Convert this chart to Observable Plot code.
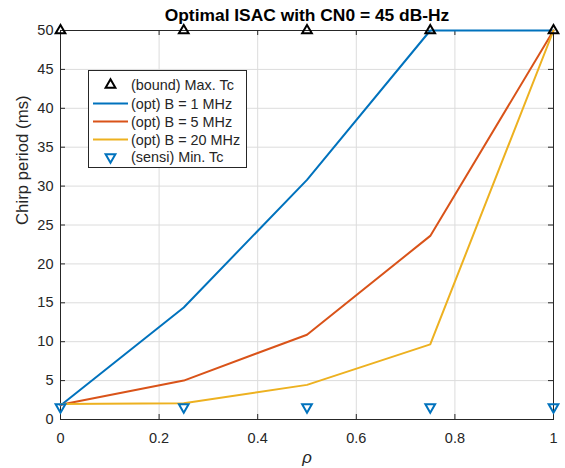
<!DOCTYPE html>
<html><head><meta charset="utf-8">
<script src="https://cdn.jsdelivr.net/npm/d3@7"></script>
<script src="https://cdn.jsdelivr.net/npm/@observablehq/plot@0.6"></script>
<style>
body{margin:0;background:#fff;font-family:"Liberation Sans",Arial,sans-serif;}
#wrap{position:relative;width:565px;height:468px;}
#legend{position:absolute;left:0;top:0;}
</style></head>
<body><div id="wrap"></div>
<script>
const rho = [0, 0.25, 0.5, 0.75, 1];
const tcB1 = [1.8, 14.4, 30.8, 50, 50];
const tcB5 = [1.9, 5.0, 10.9, 23.6, 50];
const tcB20 = [2.0, 2.1, 4.45, 9.65, 50];
const maxTc = [50, 50, 50, 50, 50];
const minTc = [1.6, 1.6, 1.6, 1.6, 1.6];
const xTicks = [0, 0.2, 0.4, 0.6, 0.8, 1];
const yTicks = [0, 5, 10, 15, 20, 25, 30, 35, 40, 45, 50];
const seriesNames = ["(bound) Max. Tc", "(opt) B = 1 MHz", "(opt) B = 5 MHz", "(opt) B = 20 MHz", "(sensi) Min. Tc"];
const colors = {blue: "#0072BD", red: "#D95319", yellow: "#EDB120"};
const title = "Optimal ISAC with CN0 = 45 dB-Hz";

const W = 565, H = 468, mL = 60, mR = 12, mT = 30, mB = 49;
const pw = W - mL - mR, ph = H - mT - mB;
const pts = (ys) => rho.map((r, i) => ({x: r, y: ys[i]}));
const axisColor = "#262626";
const FONT = "Liberation Sans, Arial, sans-serif";

const chart = Plot.plot({
  width: W, height: H,
  marginLeft: mL, marginRight: mR, marginTop: mT, marginBottom: mB,
  style: {fontFamily: FONT, fontSize: "14.5px", color: axisColor, background: "#fff"},
  x: {domain: [0, 1], ticks: xTicks, label: null},
  y: {domain: [0, 50], ticks: yTicks, label: null},
  marks: [
    Plot.gridX(xTicks, {stroke: "#dcdcdc", strokeOpacity: 1}),
    Plot.gridY(yTicks, {stroke: "#dcdcdc", strokeOpacity: 1}),
    Plot.frame({stroke: axisColor, strokeWidth: 1}),
    Plot.tickX(xTicks, {x: d => d, insetTop: ph - 5, stroke: axisColor}),
    Plot.tickX(xTicks, {x: d => d, insetBottom: ph - 5, stroke: axisColor}),
    Plot.tickY(yTicks, {y: d => d, insetRight: pw - 5, stroke: axisColor}),
    Plot.tickY(yTicks, {y: d => d, insetLeft: pw - 5, stroke: axisColor}),
    Plot.axisX(xTicks, {tickSize: 0, tickPadding: 13, fontSize: 14.5, fill: axisColor, tickFormat: d => String(d)}),
    Plot.axisY(yTicks, {tickSize: 0, tickPadding: 7, fontSize: 14.5, fill: axisColor}),
    Plot.line(pts(tcB1), {x: "x", y: "y", stroke: colors.blue, strokeWidth: 2}),
    Plot.line(pts(tcB5), {x: "x", y: "y", stroke: colors.red, strokeWidth: 2}),
    Plot.line(pts(tcB20), {x: "x", y: "y", stroke: colors.yellow, strokeWidth: 2}),
    Plot.dot(pts(maxTc), {x: "x", y: "y", symbol: "triangle", r: 3.6, stroke: "#000", strokeWidth: 2, fill: "none"}),
    Plot.dot(pts(minTc), {x: "x", y: "y", symbol: "triangle", rotate: 180, r: 3.6, stroke: colors.blue, strokeWidth: 2, fill: "none"}),
    Plot.text([title], {frameAnchor: "top", lineAnchor: "middle", dy: -15, fontWeight: "bold", fontSize: 17.4, fill: "#000"}),
    Plot.text(["Chirp period (ms)"], {frameAnchor: "left", dx: -38, rotate: -90, fontSize: 16.8, fill: axisColor}),
    Plot.text(["ρ"], {frameAnchor: "bottom", dy: 43, fontSize: 16.8, fontStyle: "italic", fill: axisColor})
  ]
});
const wrap = document.getElementById("wrap");
wrap.appendChild(chart);

// legend overlay
const lg = d3.select(wrap).append("svg").attr("id", "legend").attr("width", W).attr("height", H)
  .style("font-family", FONT);
lg.append("rect").attr("x", 88.5).attr("y", 70.5).attr("width", 158).attr("height", 97)
  .attr("fill", "#fff").attr("stroke", axisColor).attr("stroke-width", 1);
const rowY = [85, 103.5, 121.5, 139.5, 157];
const kinds = [
  {type: "tri", color: "#000", rot: 0},
  {type: "line", color: colors.blue},
  {type: "line", color: colors.red},
  {type: "line", color: colors.yellow},
  {type: "tri", color: colors.blue, rot: 180}
];
const triPath = d3.symbol(d3.symbolTriangle, Math.pow(3.6 * 2, 2) * 0.8)();
seriesNames.forEach((name, i) => {
  const k = kinds[i], y = rowY[i];
  if (k.type === "line") {
    lg.append("line").attr("x1", 93).attr("x2", 128).attr("y1", y).attr("y2", y)
      .attr("stroke", k.color).attr("stroke-width", 2);
  } else {
    lg.append("path").attr("d", triPath).attr("transform", `translate(110.5,${y}) rotate(${k.rot})`)
      .attr("fill", "none").attr("stroke", k.color).attr("stroke-width", 2);
  }
  lg.append("text").attr("x", 131).attr("y", y).attr("dy", "0.35em").attr("font-size", 14.4)
    .attr("fill", axisColor).text(name);
});
</script></body></html>
